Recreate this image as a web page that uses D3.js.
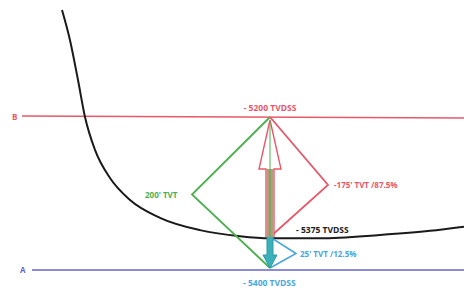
<!DOCTYPE html>
<html>
<head>
<meta charset="utf-8">
<script src="https://cdn.jsdelivr.net/npm/d3@7"></script>
<style>
  body { margin: 0; background: #fff; }
  svg text { font-family: "Open Sans", "Liberation Sans", sans-serif; }
</style>
</head>
<body>
<svg id="chart" width="464" height="293"></svg>
<script>
// surface depths (ft TVDSS)
var markerNames  = ["B", "5375", "A"];
var markerDepths = [5200, 5375, 5400];
var markerLabels = ["- 5200 TVDSS", "- 5375 TVDSS", "- 5400 TVDSS"];

// black horizon curve: lateral position / depth
var curveLat   = [62, 70, 78, 85, 95, 110, 130, 160, 200, 240, 270, 320, 380, 430, 464];
var curveDepth = [5044, 5088, 5146, 5200, 5248, 5289, 5321, 5347, 5365, 5374, 5376, 5376, 5372, 5366, 5360];

// thickness labels
var thickLabels = ["200' TVT", "-175' TVT /87.5%", "25' TVT /12.5%"];

var svg = d3.select("#chart"),
    width = +svg.attr("width"),
    height = +svg.attr("height");

// not to scale in the original, so a piecewise depth scale
var y = d3.scaleLinear().domain(markerDepths).range([117, 237, 270]);
var x = d3.scaleLinear().domain([0, 464]).range([0, width]);

var wellLat = 270;
var wx = x(wellLat);

var RED = "#e8586a", BLUE = "#6666c8", GREEN = "#4cb050",
    TEAL = "#3ab0b8", LBLUE = "#4aa6e0", BROWN = "#b59a7c";

// horizon lines B and A
svg.append("line")
  .attr("x1", x(22)).attr("x2", width)
  .attr("y1", y(5200) - 1).attr("y2", y(5200) + 1)
  .attr("stroke", RED).attr("stroke-width", 1.6);
svg.append("text").attr("x", x(12)).attr("y", y(5200) + 3)
  .attr("font-size", 8).attr("fill", RED).attr("font-weight", "bold").text(markerNames[0]);

svg.append("line")
  .attr("x1", x(32)).attr("x2", width)
  .attr("y1", y(5400)).attr("y2", y(5400))
  .attr("stroke", BLUE).attr("stroke-width", 1.6);
svg.append("text").attr("x", x(20)).attr("y", y(5400) + 3)
  .attr("font-size", 8).attr("fill", BLUE).attr("font-weight", "bold").text(markerNames[2]);

// curve
var curve = curveLat.map(function(d, i) { return [d, curveDepth[i]]; });
svg.append("path")
  .datum(curve)
  .attr("fill", "none")
  .attr("stroke", "#1a1a1a")
  .attr("stroke-width", 2)
  .attr("d", d3.line().x(function(d) { return x(d[0]); }).y(function(d) { return y(d[1]); }).curve(d3.curveMonotoneX));

var yTop = y(5200), yMid = y(5375), yBot = y(5400);

// green half diamond (full thickness)
svg.append("path")
  .attr("d", d3.line()([[wx, yTop], [x(192), (yTop + yBot) / 2 + 1], [wx, yBot - 2]]))
  .attr("fill", "none").attr("stroke", GREEN).attr("stroke-width", 1.8);

// red half diamond (upper part)
svg.append("path")
  .attr("d", d3.line()([[wx, yTop], [x(328), (yTop + yMid) / 2 + 8], [wx, yMid]]))
  .attr("fill", "none").attr("stroke", RED).attr("stroke-width", 1.8);

// blue small half diamond
svg.append("path")
  .attr("d", d3.line()([[wx, yMid], [x(296), (yMid + yBot) / 2], [wx, yBot - 2]]))
  .attr("fill", "none").attr("stroke", LBLUE).attr("stroke-width", 1.6);

// brown up arrow
var shaftTop = yTop + 52;
svg.append("path")
  .attr("d", d3.line()([
    [wx - 4, yMid], [wx - 4, shaftTop], [wx - 11, shaftTop], [wx, yTop + 3],
    [wx + 11, shaftTop], [wx + 4, shaftTop], [wx + 4, yMid]]))
  .attr("fill", "#fff").attr("stroke", RED).attr("stroke-width", 1.4);
svg.append("rect")
  .attr("x", wx - 3.3).attr("y", shaftTop).attr("width", 6.6).attr("height", yMid - shaftTop)
  .attr("fill", BROWN);
svg.append("line")
  .attr("x1", wx).attr("x2", wx).attr("y1", yTop + 4).attr("y2", yMid)
  .attr("stroke", GREEN).attr("stroke-width", 1);

// teal down arrow
svg.append("path")
  .attr("d", d3.line()([
    [wx - 3, yMid], [wx - 3, yMid + 18], [wx - 7, yMid + 18], [wx, yBot - 2],
    [wx + 7, yMid + 18], [wx + 3, yMid + 18], [wx + 3, yMid]]))
  .attr("fill", TEAL).attr("stroke", "#2a9aa6").attr("stroke-width", 1);

// depth labels
svg.append("text").attr("x", wx).attr("y", yTop - 6)
  .attr("text-anchor", "middle").attr("font-size", 8.5).attr("font-weight", "bold")
  .attr("fill", RED).text(markerLabels[0]);
svg.append("text").attr("x", x(296)).attr("y", yMid - 4)
  .attr("font-size", 8.5).attr("font-weight", "bold")
  .attr("fill", "#222").text(markerLabels[1]);
svg.append("text").attr("x", x(243)).attr("y", yBot + 16)
  .attr("font-size", 8.5).attr("font-weight", "bold")
  .attr("fill", LBLUE).text(markerLabels[2]);

// thickness labels
svg.append("text").attr("x", x(145)).attr("y", (yTop + yBot) / 2 + 4)
  .attr("font-size", 8).attr("font-weight", "bold").attr("fill", GREEN).text(thickLabels[0]);
svg.append("text").attr("x", x(334)).attr("y", (yTop + yMid) / 2 + 11)
  .attr("font-size", 8).attr("font-weight", "bold").attr("fill", RED).text(thickLabels[1]);
svg.append("text").attr("x", x(300)).attr("y", (yMid + yBot) / 2 + 3)
  .attr("font-size", 8).attr("font-weight", "bold").attr("fill", LBLUE).text(thickLabels[2]);
</script>
</body>
</html>
